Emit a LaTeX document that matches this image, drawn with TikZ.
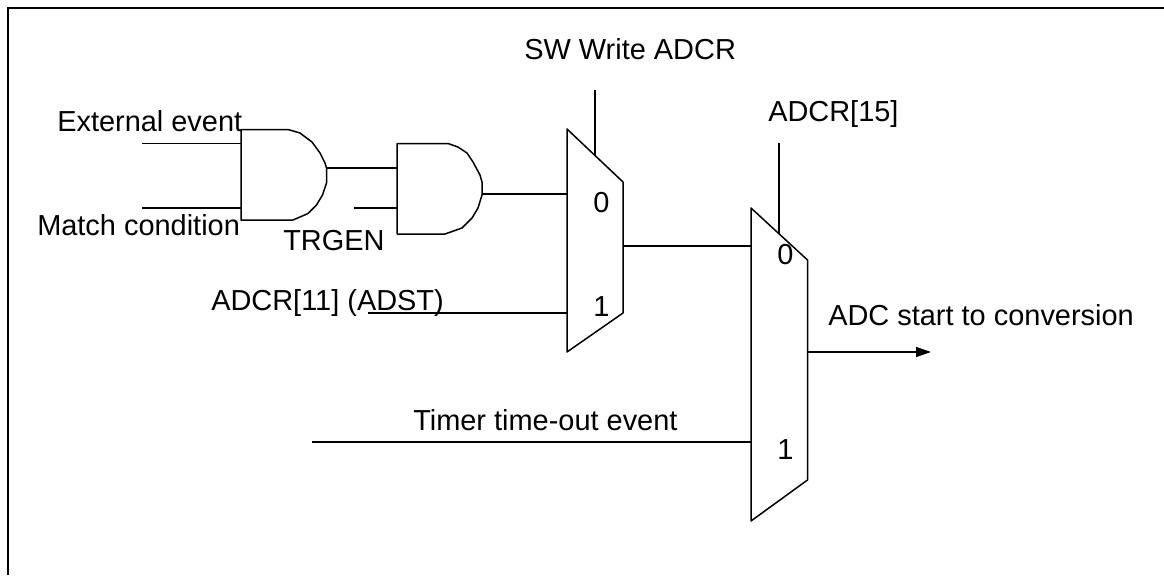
\documentclass[tikz,border=0pt]{standalone}
\usepackage{fontspec}
\setmainfont{Liberation Sans}
\usetikzlibrary{arrows.meta}
\tikzset{
  x=0.75pt,y=-0.75pt,
  wire/.style={draw=black,line width=1.5pt*0.75},
  frameline/.style={draw=black,line width=2.2pt*0.75},
  lbl/.style={inner sep=0pt,anchor=base west,font=\fontsize{21.7pt}{24pt}\selectfont,text=black},
  gate/.style={draw=black,line width=1.5pt*0.75,line join=round}
}
\begin{document}
\begin{tikzpicture}
\useasboundingbox (0,0) rectangle (1164,575);
\draw[frameline] (8,575) -- (8,8) -- (1164,8);
% text
\node[lbl] (t1) at (57,131.5) {External event};
\node[lbl] (t2) at (37,235.5) {Match condition};
\node[lbl] (t3) at (283,250) {TRGEN};
\node[lbl] (t4) at (211,310) {ADCR[11] (ADST)};
\node[lbl] (t5) at (524,59) {SW Write ADCR};
\node[lbl] (t6) at (768,121) {ADCR[15]};
\node[lbl] (t7) at (828,325) {ADC start to conversion};
\node[lbl] (t8) at (413,430) {Timer time-out event};
\node[lbl] (m0) at (593,212) {0};
\node[lbl] (m1) at (593,316) {1};
\node[lbl] (n0) at (777,264) {0};
\node[lbl] (n1) at (777,459) {1};
% gates
\draw[gate] (241,129.5) -- (288,129.5) -- (300,133) -- (312,142) -- (320,153) -- (325,163) -- (326.5,168) -- (326.5,183) -- (322.5,195) -- (316.5,205) -- (308,213.5) -- (300,217) -- (293,220) -- (241,220) -- cycle;
\draw[gate] (397,143.5) -- (448,143.5) -- (458,147) -- (467,153) -- (473,162) -- (480,175) -- (482,182) -- (482,195) -- (478,208) -- (472,218) -- (462,228) -- (445,234) -- (397,234) -- cycle;
% muxes
\draw[gate] (567,129) -- (623,182) -- (623,313) -- (567,352) -- cycle;
\draw[gate] (751,208) -- (807.5,260) -- (807.5,480) -- (751,521) -- cycle;
% named pins
\coordinate (e1) at (142,143.5);
\coordinate (e1b) at (241,143.5);
\coordinate (e2) at (142,208);
\coordinate (e2b) at (241,208);
\coordinate (g1o) at (327,168);
\coordinate (g2i) at (397,168);
\coordinate (tr) at (354,208);
\coordinate (trb) at (397,208);
\coordinate (g2o) at (482,194);
\coordinate (m1i0) at (567,194);
\coordinate (ad) at (368,313);
\coordinate (m1i1) at (567,313);
\coordinate (sw) at (595,90);
\coordinate (swb) at (595,155);
\coordinate (mo) at (623,246);
\coordinate (n1i0) at (751,246);
\coordinate (ad15) at (779,143);
\coordinate (ad15b) at (779,234);
\coordinate (tm) at (312,442);
\coordinate (tmb) at (751,442);
\coordinate (no) at (807.5,352);
\coordinate (nend) at (931,352);
\draw[wire] (e1) -- (e1b);
\draw[wire] (e2) -- (e2b);
\draw[wire] (g1o) -- (g2i);
\draw[wire] (tr) -- (trb);
\draw[wire] (g2o) -- (m1i0);
\draw[wire] (ad) -- (m1i1);
\draw[wire] (sw) -- (swb);
\draw[wire] (mo) -- (n1i0);
\draw[wire] (ad15) -- (ad15b);
\draw[wire] (tm) -- (tmb);
\draw[wire,-{Triangle[length=15*0.75pt,width=10*0.75pt]}] (no) -- (nend);
\end{tikzpicture}
\end{document}
